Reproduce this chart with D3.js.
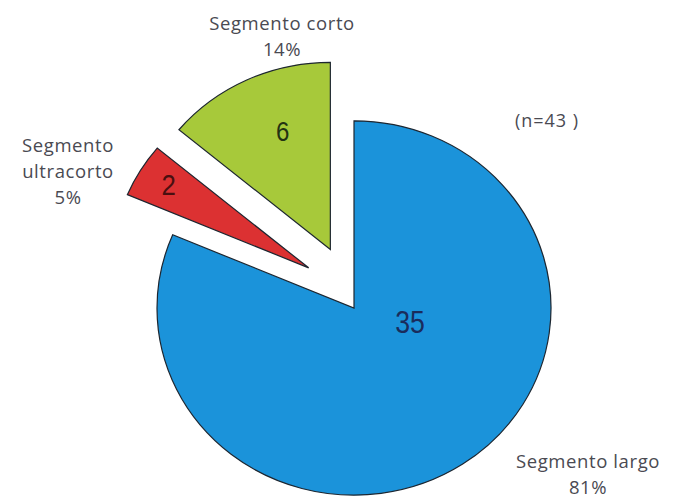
<!DOCTYPE html>
<html>
<head>
<meta charset="utf-8">
<script src="https://cdn.jsdelivr.net/npm/d3@7"></script>
<style>
  html, body { margin: 0; padding: 0; background: #fff; }
  svg { display: block; }
</style>
</head>
<body>
<svg id="chart" width="675" height="498"></svg>
<script>
// Segment length distribution (n = 43)
const categories = ["Segmento largo", "Segmento ultracorto", "Segmento corto"];
const counts = [35, 2, 6];
const percents = ["81%", "5%", "14%"];
const colors = ["#1b93da", "#dc3132", "#a7c93a"];
const total = 43;

// Layout / style settings
const W = 675, H = 498;
const cx = 354, cy = 308;
const R = 197;
const squash = 0.95;               // slight vertical flattening of the pie
// explode distance and direction (deg, clockwise from 12 o'clock) per slice
const explode = [{ d: 0, a: 0 }, { d: 62, a: 313 }, { d: 66, a: 339 }];
// value label placement: polar from slice tip (radius px, angle deg)
const valuePos = [{ r: 58, a: 105, size: 31, fill: "#1a2c5c" },
                  { r: 165, a: 302, size: 30, fill: "#4a0f10" },
                  { r: 133, a: 339, size: 28, fill: "#233312" }];
// category labels: offset from pie centre, text lines
const catLabelPos = [{ dx: 234, dy: 160, lines: ["Segmento largo"] },
                     { dx: -286, dy: -156, lines: ["Segmento", "ultracorto"] },
                     { dx: -72, dy: -278, lines: ["Segmento corto"] }];
const lineH = 26;

const rad = deg => deg * Math.PI / 180;
const polar = (r, deg) => [r * Math.sin(rad(deg)), -r * Math.cos(rad(deg))];

const svg = d3.select("#chart");
svg.append("rect").attr("width", W).attr("height", H).attr("fill", "#fff");

const pie = d3.pie().sort(null).value(d => d);
const arcs = pie(counts);
const arc = d3.arc().innerRadius(0).outerRadius(R);

const pieG = svg.append("g")
  .attr("transform", `translate(${cx},${cy}) scale(1,${squash})`);

pieG.selectAll("g.slice")
  .data(arcs)
  .join("g")
  .attr("class", "slice")
  .attr("transform", (d, i) => {
    const [ex, ey] = polar(explode[i].d, explode[i].a);
    return `translate(${ex},${ey})`;
  })
  .append("path")
  .attr("d", arc)
  .attr("fill", (d, i) => colors[i])
  .attr("stroke", "#1d2630")
  .attr("stroke-width", 1.2)
  .attr("stroke-linejoin", "miter")
  .attr("vector-effect", "non-scaling-stroke");

// value labels inside slices
const toScreen = (x, y) => [cx + x, cy + y * squash];
svg.append("g").selectAll("text")
  .data(arcs)
  .join("text")
  .each(function (d, i) {
    const [ex, ey] = polar(explode[i].d, explode[i].a);
    const [lx, ly] = polar(valuePos[i].r, valuePos[i].a);
    const [sx, sy] = toScreen(ex + lx, ey + ly);
    d3.select(this)
      .attr("x", sx).attr("y", sy)
      .attr("text-anchor", "middle")
      .attr("dominant-baseline", "central")
      .attr("font-family", "'Liberation Sans', Arial, sans-serif")
      .attr("font-size", valuePos[i].size)
      .attr("fill", valuePos[i].fill)
      .attr("transform", `translate(${sx},${sy}) scale(0.86,1) translate(${-sx},${-sy})`)
      .text(d.data);
  });

// category labels with percentage
const labG = svg.append("g")
  .attr("font-family", "'Open Sans', sans-serif")
  .attr("font-size", 18.5)
  .attr("letter-spacing", 0.6)
  .attr("fill", "#4a4a52")
  .attr("text-anchor", "middle");

categories.forEach((c, i) => {
  const p = catLabelPos[i];
  const t = labG.append("text")
    .attr("x", cx + p.dx).attr("y", cy + p.dy);
  const lines = p.lines.concat([percents[i]]);
  lines.forEach((ln, k) => {
    t.append("tspan")
      .attr("x", cx + p.dx)
      .attr("dy", k === 0 ? 0 : lineH)
      .text(ln);
  });
});

// sample size note
svg.append("text")
  .attr("x", cx + 193).attr("y", cy - 181)
  .attr("text-anchor", "middle")
  .attr("font-family", "'Open Sans', sans-serif")
  .attr("font-size", 18)
  .attr("letter-spacing", 1)
  .attr("fill", "#4a4a52")
  .text(`(n=${total} )`);
</script>
</body>
</html>
